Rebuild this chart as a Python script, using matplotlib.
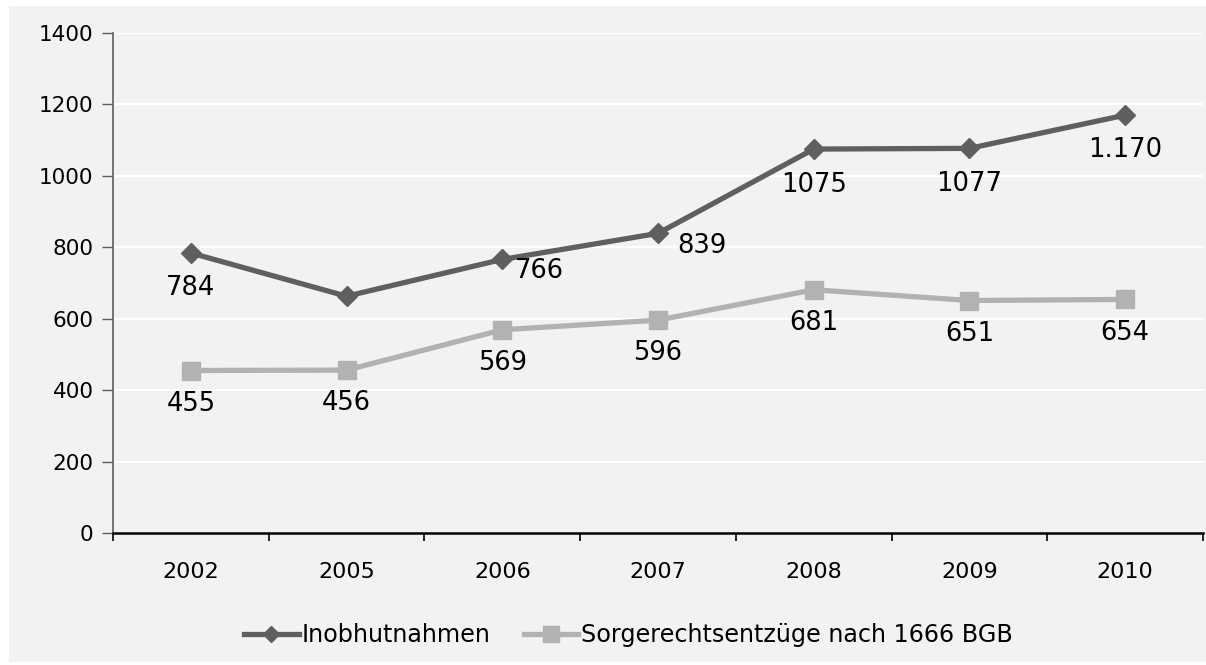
import matplotlib.pyplot as plt
from matplotlib.patches import Rectangle

# Data
years = ['2002', '2005', '2006', '2007', '2008', '2009', '2010']
inobhut = [784, 663, 766, 839, 1075, 1077, 1170]
inobhut_labels = ['784', '', '766', '839', '1075', '1077', '1.170']
sorge = [455, 456, 569, 596, 681, 651, 654]
sorge_labels = ['455', '456', '569', '596', '681', '651', '654']

dark = '#5f5f5f'
light = '#b2b2b2'
bg = '#f2f2f2'

plt.rcParams['font.family'] = ['DejaVu Sans']

fig = plt.figure(figsize=(12.06, 6.65), dpi=100)
fig.patch.set_facecolor('white')
fig.add_artist(Rectangle((9 / 1206, 3 / 665), 1197 / 1206, 656 / 665,
                         transform=fig.transFigure, facecolor=bg,
                         edgecolor='none', zorder=-10))

ax = fig.add_axes([113 / 1206, 1 - 533 / 665, 1090 / 1206, 500 / 665])
ax.set_facecolor(bg)

x = list(range(len(years)))
ax.plot(x, inobhut, color=dark, lw=3.8, marker='D', ms=10, label='Inobhutnahmen',
        zorder=3)
ax.plot(x, sorge, color=light, lw=3.8, marker='s', ms=13.5,
        label='Sorgerechtsentzüge nach 1666 BGB', zorder=3)

# data labels (offsets in points)
dark_off = [(0, -25, 'center'), None, (9, -8, 'left'), (14, -9, 'left'),
            (0, -26, 'center'), (0, -26, 'center'), (0, -25, 'center')]
for xi, v, lab, off in zip(x, inobhut, inobhut_labels, dark_off):
    if off is None or not lab:
        continue
    dx, dy, ha = off
    ax.annotate(lab, (xi, v), xytext=(dx, dy), textcoords='offset points',
                ha=ha, va='center', fontsize=18.5, color='black')
for xi, v, lab in zip(x, sorge, sorge_labels):
    ax.annotate(lab, (xi, v), xytext=(0, -24), textcoords='offset points',
                ha='center', va='center', fontsize=18.5, color='black')

ax.set_xlim(-0.5, len(years) - 0.5)
ax.set_ylim(0, 1400)
ax.set_yticks(range(0, 1401, 200))
ax.yaxis.grid(True, color='white', lw=1.5)
ax.set_axisbelow(True)

ax.set_xticks(x)
ax.set_xticklabels(years, fontsize=16)
ax.set_xticks([i - 0.5 for i in range(len(years) + 1)], minor=True)
ax.tick_params(axis='x', which='major', length=0, pad=21)
ax.tick_params(axis='x', which='minor', length=6, width=1.2, color='black',
               direction='out')
ax.tick_params(axis='y', length=8, width=1, color=dark, labelsize=15.5, pad=6)

for s in ['top', 'right']:
    ax.spines[s].set_visible(False)
ax.spines['left'].set_color(dark)
ax.spines['left'].set_linewidth(1.2)
ax.spines['bottom'].set_color('black')
ax.spines['bottom'].set_linewidth(1.8)

leg = fig.legend(loc='center', bbox_to_anchor=(0.521, 1 - 635 / 665), ncol=2,
                 frameon=False, fontsize=17.2, handlelength=2.3,
                 handletextpad=0.1, columnspacing=1.4, markerscale=0.85)

fig.savefig('out.png', dpi=100, facecolor=fig.get_facecolor())
